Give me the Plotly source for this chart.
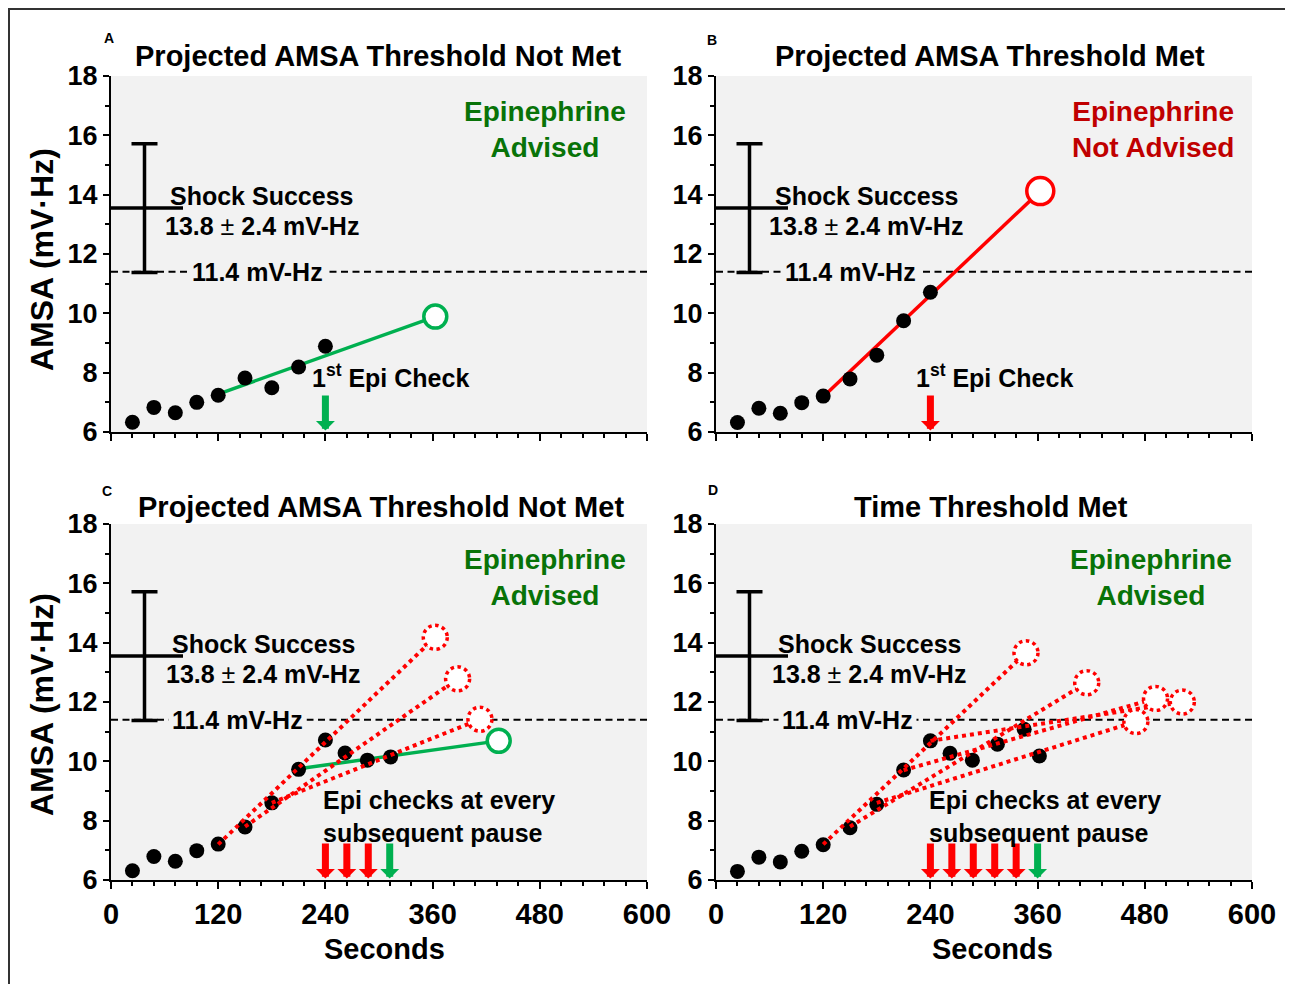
import plotly.graph_objects as go

# ---------------- data ----------------
TIMES_A = [24, 48, 72, 96, 120, 150, 180, 210, 240]
AMSA_A = [6.33, 6.83, 6.65, 7.00, 7.24, 7.82, 7.49, 8.19, 8.89]
TIMES_B = [24, 48, 72, 96, 120, 150, 180, 210, 240]
AMSA_B = [6.32, 6.80, 6.63, 6.99, 7.21, 7.79, 8.59, 9.75, 10.71]
TIMES_C = [24, 48, 72, 96, 120, 150, 180, 210, 240, 262, 287, 313]
AMSA_C = [6.31, 6.79, 6.63, 6.99, 7.21, 7.79, 8.60, 9.73, 10.72, 10.28, 10.04, 10.15]
TIMES_D = [24, 48, 72, 96, 120, 150, 180, 210, 240, 262, 287, 315, 345, 362]
AMSA_D = [6.29, 6.77, 6.61, 6.97, 7.19, 7.76, 8.55, 9.71, 10.69, 10.27, 10.04, 10.58, 11.08, 10.18]

# projections: (start time, start AMSA, projected time, projected AMSA)
PROJ_A_GREEN = [(120, 7.28, 363, 9.89)]
PROJ_B_RED = [(120, 7.19, 363, 14.12)]
PROJ_C_RED = [(120, 7.20, 363, 14.18), (150, 7.80, 388, 12.78), (180, 8.60, 413, 11.42)]
PROJ_C_GREEN = [(210, 9.75, 434, 10.69)]
PROJ_D_RED = [(120, 7.20, 347, 13.66), (150, 7.80, 415, 12.65), (180, 8.60, 470, 11.34),
              (210, 9.70, 492, 12.12), (240, 10.69, 522, 12.00)]

CHECKS_A_GREEN = [240]
CHECKS_B_RED = [240]
CHECKS_C_RED = [240, 264, 288]
CHECKS_C_GREEN = [312]
CHECKS_D_RED = [240, 264, 288, 312, 336]
CHECKS_D_GREEN = [360]

THRESHOLD = 11.4
SHOCK_MEAN = 13.55
SHOCK_SD = 2.17
SHOCK_X = 37.5

X_TICKS = [0, 120, 240, 360, 480, 600]
Y_TICKS = [6, 8, 10, 12, 14, 16, 18]

# ---------------- style ----------------
# page has an 8px body margin; figure sized to fill the rest of the window
OFF = 8
W, H = 1285, 976
FONT = "Liberation Sans, Arial, sans-serif"
GREEN = "#00b050"
RED = "#ff0000"
TXT_GREEN = "#087308"
TXT_RED = "#c00000"
BG = "#f2f2f2"


def px_x(p):
    return (p - OFF) / W


def px_y(p):
    return 1 - (p - OFF) / H


fig = go.Figure()

panels = [
    dict(x="x", y="y", xd=[111, 647], yd=[76, 432], labels=False),
    dict(x="x2", y="y2", xd=[716, 1252], yd=[76, 432], labels=False),
    dict(x="x3", y="y3", xd=[111, 647], yd=[524, 880], labels=True),
    dict(x="x4", y="y4", xd=[716, 1252], yd=[524, 880], labels=True),
]

layout_axes = {}
for i, p in enumerate(panels):
    n = "" if i == 0 else str(i + 1)
    layout_axes["xaxis" + n] = dict(
        domain=[px_x(p["xd"][0]), px_x(p["xd"][1])], anchor=p["y"], range=[0, 600],
        tickvals=X_TICKS, ticks="outside", ticklen=7, tickwidth=2, tickcolor="black",
        showline=True, linewidth=2, linecolor="black", showgrid=False, zeroline=False,
        showticklabels=p["labels"], automargin=False,
        tickfont=dict(family=FONT, size=29, color="black", weight="bold"),
        minor=dict(tick0=0, dtick=24, ticks="outside", ticklen=4, tickwidth=2,
                   tickcolor="black", showgrid=False),
        fixedrange=True,
    )
    layout_axes["yaxis" + n] = dict(
        domain=[px_y(p["yd"][1]), px_y(p["yd"][0])], anchor=p["x"], range=[6, 18],
        tickvals=Y_TICKS, ticks="outside", ticklen=6, tickwidth=2, tickcolor="black",
        showline=True, linewidth=2, linecolor="black", showgrid=False, zeroline=False,
        automargin=False,
        tickfont=dict(family=FONT, size=27, color="black", weight="bold"),
        minor=dict(tick0=0, dtick=1, ticks="outside", ticklen=4, tickwidth=2,
                   tickcolor="black", showgrid=False),
        fixedrange=True,
    )

shapes = []
annotations = []


def add_panel(p, times, amsa, solid_proj, solid_color, dotted_proj, arrows_red, arrows_green,
              shock_x, shock_sub_x, lbl_x, epi_x, epi_color, epi_text, check_text, check_x):
    xr, yr = p["x"], p["y"]
    # threshold line
    shapes.append(dict(type="line", xref=f"{xr} domain", yref=yr, x0=0, x1=1,
                       y0=THRESHOLD, y1=THRESHOLD, layer="below",
                       line=dict(color="black", width=2, dash="7px,4.5px")))
    # shock success error bar
    fig.add_trace(go.Scatter(
        x=[SHOCK_X], y=[SHOCK_MEAN], xaxis=xr, yaxis=yr, mode="markers",
        marker=dict(symbol="line-ew", size=55, color="black",
                    line=dict(color="black", width=3.5)),
        error_y=dict(type="data", array=[SHOCK_SD], visible=True, color="black",
                     thickness=3.5, width=13),
        showlegend=False, hoverinfo="skip"))
    # solid projection lines
    for (t0, v0, t1, v1) in solid_proj:
        fig.add_trace(go.Scatter(x=[t0, t1], y=[v0, v1], xaxis=xr, yaxis=yr, mode="lines",
                                 line=dict(color=solid_color, width=3.5),
                                 showlegend=False, hoverinfo="skip"))
    # data points
    fig.add_trace(go.Scatter(x=times, y=amsa, xaxis=xr, yaxis=yr, mode="markers",
                             marker=dict(size=15, color="black"),
                             showlegend=False, hoverinfo="skip"))
    # dotted projection lines
    for (t0, v0, t1, v1) in dotted_proj:
        fig.add_trace(go.Scatter(x=[t0, t1], y=[v0, v1], xaxis=xr, yaxis=yr, mode="lines",
                                 line=dict(color=RED, width=4, dash="dot"),
                                 showlegend=False, hoverinfo="skip"))
    # open circles for solid projections
    for (t0, v0, t1, v1) in solid_proj:
        size = 27 if solid_color == RED else 23
        fig.add_trace(go.Scatter(x=[t1], y=[v1], xaxis=xr, yaxis=yr, mode="markers",
                                 marker=dict(size=size, color="white",
                                             line=dict(color=solid_color, width=3.5)),
                                 showlegend=False, hoverinfo="skip"))
    # dotted open circles
    for (t0, v0, t1, v1) in dotted_proj:
        shapes.append(dict(type="circle", xref=xr, yref=yr, xsizemode="pixel",
                           ysizemode="pixel", xanchor=t1, yanchor=v1,
                           x0=-12, x1=12, y0=-12, y1=12, layer="above",
                           fillcolor="white", line=dict(color=RED, width=3.5, dash="dot")))
    # arrows
    for t, col in [(t, RED) for t in arrows_red] + [(t, GREEN) for t in arrows_green]:
        annotations.append(dict(x=t, y=6.05, ax=t, ay=7.28, xref=xr, yref=yr, axref=xr,
                                ayref=yr, text="", showarrow=True, arrowhead=1,
                                arrowsize=0.45, arrowwidth=7, arrowcolor=col))
    # texts
    f = dict(family=FONT, size=25, color="black", weight="bold")
    annotations.append(dict(x=shock_x, y=13.97, xref=xr, yref=yr, text="Shock Success",
                            showarrow=False, xanchor="left", yanchor="middle", font=f))
    annotations.append(dict(x=shock_sub_x, y=12.95, xref=xr, yref=yr,
                            text="13.8 <span style='font-weight:normal'>±</span> 2.4 mV-Hz",
                            showarrow=False, xanchor="left", yanchor="middle", font=f))
    annotations.append(dict(x=lbl_x, y=THRESHOLD, xref=xr, yref=yr, text="11.4 mV-Hz",
                            showarrow=False, xanchor="center", yanchor="middle", font=f,
                            bgcolor=BG, borderpad=3))
    annotations.append(dict(x=epi_x, y=16.18, xref=xr, yref=yr, text=epi_text,
                            showarrow=False, xanchor="center", yanchor="middle",
                            font=dict(family=FONT, size=28, color=epi_color, weight="bold")))
    if check_text == "first":
        annotations.append(dict(x=check_x, y=7.9, xref=xr, yref=yr,
                                text="1<sup>st</sup> Epi Check", showarrow=False,
                                xanchor="left", yanchor="middle", font=f))
    else:
        annotations.append(dict(x=check_x, y=8.14, xref=xr, yref=yr,
                                text="Epi checks at every<br>subsequent pause",
                                showarrow=False, xanchor="left", yanchor="middle",
                                align="left", font=f))


add_panel(panels[0], TIMES_A, AMSA_A, PROJ_A_GREEN, GREEN, [], [], CHECKS_A_GREEN,
          63.5, 58, 164, 486, TXT_GREEN, "Epinephrine<br>Advised", "first", 222.5)
add_panel(panels[1], TIMES_B, AMSA_B, PROJ_B_RED, RED, [], CHECKS_B_RED, [],
          63.5, 57.5, 151, 489, TXT_RED, "Epinephrine<br>Not Advised", "first", 221.5)
add_panel(panels[2], TIMES_C, AMSA_C, PROJ_C_GREEN, GREEN, PROJ_C_RED, CHECKS_C_RED,
          CHECKS_C_GREEN, 66, 59, 141.5, 486, TXT_GREEN, "Epinephrine<br>Advised", "many", 235)
add_panel(panels[3], TIMES_D, AMSA_D, [], GREEN, PROJ_D_RED, CHECKS_D_RED, CHECKS_D_GREEN,
          67, 60.5, 147, 487, TXT_GREEN, "Epinephrine<br>Advised", "many", 236)

# titles, panel letters, axis titles (paper coordinates)
tf = dict(family=FONT, size=29, color="black", weight="bold")
for txt, cx, cy in [("Projected AMSA Threshold Not Met", 378.5, 56),
                    ("Projected AMSA Threshold Met", 990, 56),
                    ("Projected AMSA Threshold Not Met", 380.5, 507),
                    ("Time Threshold Met", 991.5, 507)]:
    annotations.append(dict(x=px_x(cx), y=px_y(cy), xref="paper", yref="paper", text=txt,
                            showarrow=False, xanchor="center", yanchor="middle", font=tf))
lf = dict(family=FONT, size=14, color="black", weight="bold")
for txt, cx, cy in [("A", 109, 38), ("B", 712, 40), ("C", 107, 491), ("D", 713, 490)]:
    annotations.append(dict(x=px_x(cx), y=px_y(cy), xref="paper", yref="paper", text=txt,
                            showarrow=False, xanchor="center", yanchor="middle", font=lf))
af = dict(family=FONT, size=32, color="black", weight="bold")
for cy in [260, 705]:
    annotations.append(dict(x=px_x(42), y=px_y(cy), xref="paper", yref="paper",
                            text="AMSA (mV·Hz)", textangle=-90, showarrow=False,
                            xanchor="center", yanchor="middle", font=af))
sf = dict(family=FONT, size=29, color="black", weight="bold")
for cx in [384, 992]:
    annotations.append(dict(x=px_x(cx), y=px_y(949), xref="paper", yref="paper",
                            text="Seconds", showarrow=False, xanchor="center",
                            yanchor="middle", font=sf))

# outer frame
shapes.append(dict(type="rect", xref="paper", yref="paper", x0=1 / W, x1=px_x(1291),
                   y0=-0.02, y1=1 - 1 / H, line=dict(color="#333333", width=2),
                   layer="above"))

fig.update_layout(
    width=W, height=H, margin=dict(l=0, r=0, t=0, b=0, pad=0, autoexpand=False),
    paper_bgcolor="white", plot_bgcolor=BG, showlegend=False, hovermode=False,
    shapes=shapes, annotations=annotations, **layout_axes,
)

fig.write_html("out.html")
